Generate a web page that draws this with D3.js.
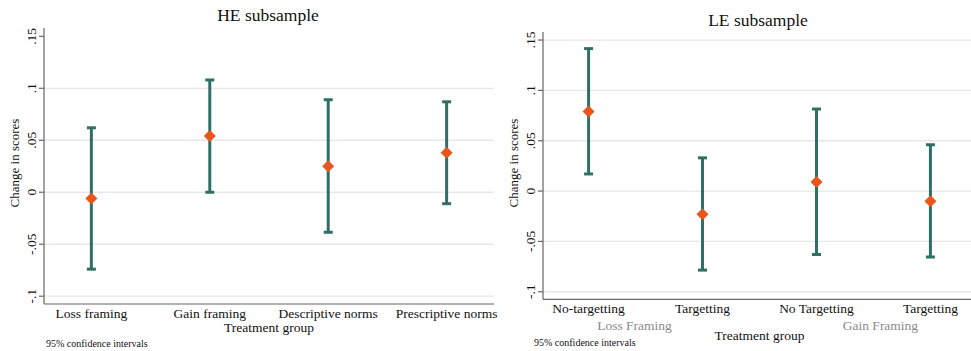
<!DOCTYPE html>
<html><head><meta charset="utf-8">
<script src="https://cdn.jsdelivr.net/npm/d3@7"></script>
<style>body{margin:0;background:#fff}svg{display:block}text{font-family:"Liberation Serif","Times New Roman",serif}</style>
</head><body><svg id="c" width="971" height="351"></svg>
<script>
const heCategories = ["Loss framing","Gain framing","Descriptive norms","Prescriptive norms"];
const heEstimate = [-0.006, 0.054, 0.025, 0.038];
const heLower = [-0.074, 0.000, -0.0385, -0.011];
const heUpper = [0.062, 0.108, 0.089, 0.087];

const leCategories = ["No-targetting","Targetting","No Targetting","Targetting "];
const leEstimate = [0.079, -0.023, 0.009, -0.010];
const leLower = [0.017, -0.0785, -0.063, -0.0655];
const leUpper = [0.1415, 0.033, 0.0815, 0.046];
const leGroups = ["Loss Framing","Gain Framing"];

const yTicks = [-0.1, -0.05, 0, 0.05, 0.1, 0.15];
const fmt = v => v === 0 ? "0" : (v < 0 ? "-" : "") + String(Math.abs(v)).replace(/^0/, "");

const svg = d3.select("#c");
const teal = "#2f6f66", orange = "#e8561c";

function panel(o) {
  const g = svg.append("g");
  const y = d3.scaleLinear().domain([-0.1075, 0.158]).range([o.bottom, o.top]);
  const x = d3.scalePoint().domain(o.cats).range([o.left, o.right]).padding(0.4);
  g.selectAll(".grid").data(yTicks.filter(t => o.gridTop || t < 0.15)).enter().append("line")
    .attr("x1", o.left).attr("x2", Math.min(o.right, o.clip)).attr("y1", d => y(d)).attr("y2", d => y(d))
    .attr("stroke", "#e8e8e8").attr("stroke-width", 1.3);
  g.append("line").attr("x1", o.left).attr("x2", o.left).attr("y1", o.top).attr("y2", o.bottom)
    .attr("stroke", "#666").attr("stroke-width", 1.2);
  g.selectAll(".tk").data(yTicks).enter().append("line")
    .attr("x1", o.left - 5).attr("x2", o.left).attr("y1", d => y(d)).attr("y2", d => y(d))
    .attr("stroke", "#666").attr("stroke-width", 1.2);
  g.selectAll(".tl").data(yTicks).enter().append("text")
    .attr("transform", d => `translate(${o.left - 8},${y(d)}) rotate(-90)`)
    .attr("text-anchor", "middle").attr("font-size", 13.5).attr("fill", "#111").text(fmt);
  g.append("text").attr("transform", `translate(${o.left - 25},${o.titleY}) rotate(-90)`)
    .attr("text-anchor", "middle").attr("font-size", 13).attr("fill", "#111").text("Change in scores");
  g.append("line").attr("x1", o.left).attr("x2", Math.min(o.right, o.clip)).attr("y1", o.bottom).attr("y2", o.bottom)
    .attr("stroke", "#666").attr("stroke-width", 1.2);
  g.selectAll(".xl").data(o.cats).enter().append("text")
    .attr("x", d => x(d)).attr("y", o.bottom + 14).attr("text-anchor", "middle")
    .attr("font-size", 13.5).attr("fill", "#111").text(d => d.trim());
  const rows = o.cats.map((c, i) => ({c, e: o.est[i], lo: o.lo[i], hi: o.hi[i]}));
  const eb = g.selectAll(".eb").data(rows).enter().append("g").attr("stroke", teal).attr("stroke-width", 3);
  eb.append("line").attr("x1", d => x(d.c)).attr("x2", d => x(d.c)).attr("y1", d => y(d.lo)).attr("y2", d => y(d.hi));
  eb.append("line").attr("x1", d => x(d.c) - 4.5).attr("x2", d => x(d.c) + 4.5).attr("y1", d => y(d.lo)).attr("y2", d => y(d.lo));
  eb.append("line").attr("x1", d => x(d.c) - 4.5).attr("x2", d => x(d.c) + 4.5).attr("y1", d => y(d.hi)).attr("y2", d => y(d.hi));
  g.selectAll(".pt").data(rows).enter().append("path")
    .attr("d", d => { const cx = x(d.c), cy = y(d.e), r = 6; return `M${cx},${cy - r}L${cx + r},${cy}L${cx},${cy + r}L${cx - r},${cy}Z`; })
    .attr("fill", orange);
  g.append("text").attr("x", o.titleX).attr("y", o.titleBase).attr("text-anchor", "middle")
    .attr("font-size", 17.5).attr("fill", "#111").text(o.title);
  g.append("text").attr("x", (x(o.cats[1]) + x(o.cats[2])) / 2).attr("y", o.xtitleY)
    .attr("text-anchor", "middle").attr("font-size", 13.5).attr("fill", "#111").text("Treatment group");
  g.append("text").attr("x", o.noteX).attr("y", o.noteY).attr("font-size", 10).attr("fill", "#111").text("95% confidence intervals");
  return {g, x, y};
}

panel({cats: heCategories, est: heEstimate, lo: heLower, hi: heUpper,
  left: 44, right: 494, clip: 494, top: 28, bottom: 304, gridTop: false,
  title: "HE subsample", titleX: 268, titleBase: 21, titleY: 163, xtitleY: 332, noteX: 46, noteY: 347});

const le = panel({cats: leCategories, est: leEstimate, lo: leLower, hi: leUpper,
  left: 543, right: 976, clip: 971, top: 32, bottom: 299.3, gridTop: true,
  title: "LE subsample", titleX: 758, titleBase: 26, titleY: 163, xtitleY: 340, noteX: 534, noteY: 346});

le.g.selectAll(".grp").data(leGroups).enter().append("text")
  .attr("x", (d, i) => i === 0 ? (le.x(leCategories[0]) + le.x(leCategories[1])) / 2 - 11 : (le.x(leCategories[2]) + le.x(leCategories[3])) / 2 + 7)
  .attr("y", 330).attr("text-anchor", "middle").attr("font-size", 13.5).attr("fill", "#8a8a8a").text(d => d);
</script></body></html>
